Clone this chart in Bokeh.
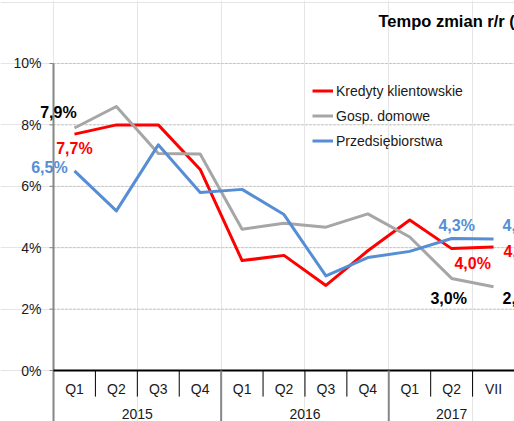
import math
from bokeh.plotting import figure
from bokeh.models import (Range1d, ColumnDataSource, Label, LabelSet, Legend, LegendItem)
from bokeh.embed import file_html
from bokeh.resources import INLINE
from bokeh.core.properties import value

# ---------------- data ----------------
years = ["2015", "2015", "2015", "2015", "2016", "2016", "2016", "2016", "2017", "2017", "2017"]
periods = ["Q1", "Q2", "Q3", "Q4", "Q1", "Q2", "Q3", "Q4", "Q1", "Q2", "VII"]
kredyty = [7.7, 8.0, 8.0, 6.55, 3.58, 3.75, 2.77, 3.9, 4.9, 3.97, 4.02]
gosp_domowe = [7.9, 8.6, 7.07, 7.05, 4.6, 4.8, 4.67, 5.1, 4.35, 3.0, 2.73]
przedsiebiorstwa = [6.5, 5.2, 7.35, 5.8, 5.9, 5.08, 3.08, 3.68, 3.88, 4.3, 4.28]
series_names = ["Kredyty klientowskie", "Gosp. domowe", "Przedsiębiorstwa"]
y_ticks = [0, 2, 4, 6, 8, 10]
title_text = "Tempo zmian r/r (%)"

FONT = "Liberation Sans"
RED, GRAY, BLUE = "#ff0000", "#a6a6a6", "#558ed5"
AXIS_GRAY = "#868686"

n = len(periods)
xpos = [i + 0.5 for i in range(n)]           # category centres on the x scale
Y_BOTTOM = -1.661

p = figure(x_range=Range1d(-1.265, 11.0), y_range=Range1d(Y_BOTTOM, 12.052),
           width=514, height=421, output_backend="svg", toolbar_location=None,
           x_axis_location=None, y_axis_location=None,
           min_border_left=0, min_border_right=0, min_border_top=0, min_border_bottom=0)
p.outline_line_color = None
p.background_fill_color = "white"
p.border_fill_color = "white"

# grid lines
grid_vals = [t for t in y_ticks if t > 0]
p.segment(x0=[0] * len(grid_vals), y0=grid_vals, x1=[n] * len(grid_vals), y1=grid_vals,
          line_color="#bdbdbd", line_width=1, line_dash="2 2")

# y axis
p.segment(x0=[0], y0=[Y_BOTTOM], x1=[0], y1=[max(y_ticks)], line_color=AXIS_GRAY, line_width=2)
p.ray(x=[0] * len(y_ticks), y=y_ticks, length=4, length_units="screen", angle=math.pi,
      line_color=AXIS_GRAY, line_width=1)
p.text(x=[0] * len(y_ticks), y=y_ticks, text=[f"{t}%" for t in y_ticks], x_offset=-12,
       text_font=value(FONT), text_font_size="14px", text_color="#1a1a1a",
       text_align="right", text_baseline="middle")

# category axis
p.segment(x0=[0], y0=[0], x1=[n], y1=[0], line_color="black", line_width=2)
q_bounds = [i for i in range(1, n) if years[i] == years[i - 1]]
y_bounds = [i for i in range(1, n) if years[i] != years[i - 1]]
p.segment(x0=q_bounds, y0=[0] * len(q_bounds), x1=q_bounds, y1=[-0.85] * len(q_bounds),
          line_color="black", line_width=1)
p.segment(x0=y_bounds, y0=[0] * len(y_bounds), x1=y_bounds, y1=[Y_BOTTOM] * len(y_bounds),
          line_color=AXIS_GRAY, line_width=2)

p.text(x=xpos, y=[-0.59] * n, text=periods, text_font=value(FONT),
       text_font_size="14px", text_color="#1a1a1a", text_align="center",
       text_baseline="middle")
uyears = list(dict.fromkeys(years))
year_centres = [sum(xpos[i] for i in range(n) if years[i] == yr) /
                sum(1 for y in years if y == yr) for yr in uyears]
p.text(x=year_centres, y=[-1.43] * len(uyears), text=uyears, text_font=value(FONT),
       text_font_size="14px", text_color="#1a1a1a", text_align="center",
       text_baseline="middle")

# series lines
series = [kredyty, gosp_domowe, przedsiebiorstwa]
colors = [RED, GRAY, BLUE]
renderers = []
for vals, col in zip(series, colors):
    r = p.line(x=xpos, y=vals, line_color=col, line_width=3, line_join="round")
    renderers.append(r)

legend = Legend(items=[LegendItem(label=nm, renderers=[r]) for nm, r in zip(series_names, renderers)],
                location=(312, 268), orientation="vertical",
                padding=0, margin=0, spacing=0, label_height=25, glyph_height=25,
                glyph_width=21, label_standoff=3,
                label_text_font=FONT, label_text_font_size="14px",
                label_text_color="#1a1a1a",
                border_line_color=None, background_fill_alpha=0)
p.add_layout(legend)

# data labels: (series index, point index, x offset, y offset, align)
label_specs = [
    (1, 0, -16, 15, "center"), (0, 0, 0, -14, "center"), (2, 0, -25, 3, "center"),
    (2, 9, 5, 13, "center"), (2, 10, 9, 14, "left"),
    (0, 9, 21, -15, "center"), (0, 10, 10, -4, "left"),
    (1, 9, -3, -20, "center"), (1, 10, 9, -12, "left"),
]
label_colors = [RED, "black", BLUE]
for si, pi, dx, dy, al in label_specs:
    v = series[si][pi]
    src = ColumnDataSource(dict(x=[xpos[pi]], y=[v],
                                t=[f"{v:.1f}%".replace(".", ",")]))
    p.add_layout(LabelSet(x="x", y="y", text="t", source=src, x_offset=dx, y_offset=dy,
                          text_font=value(FONT), text_font_style="bold",
                          text_font_size="16px",
                          text_color=label_colors[si], text_align=al,
                          text_baseline="middle"))

p.add_layout(Label(x=378, y=401, x_units="screen", y_units="screen", text=title_text,
                   text_font=FONT, text_font_style="bold", text_font_size="16.5px",
                   text_color="black", text_align="left", text_baseline="middle"))

open("out.html", "w").write(file_html(p, INLINE))
